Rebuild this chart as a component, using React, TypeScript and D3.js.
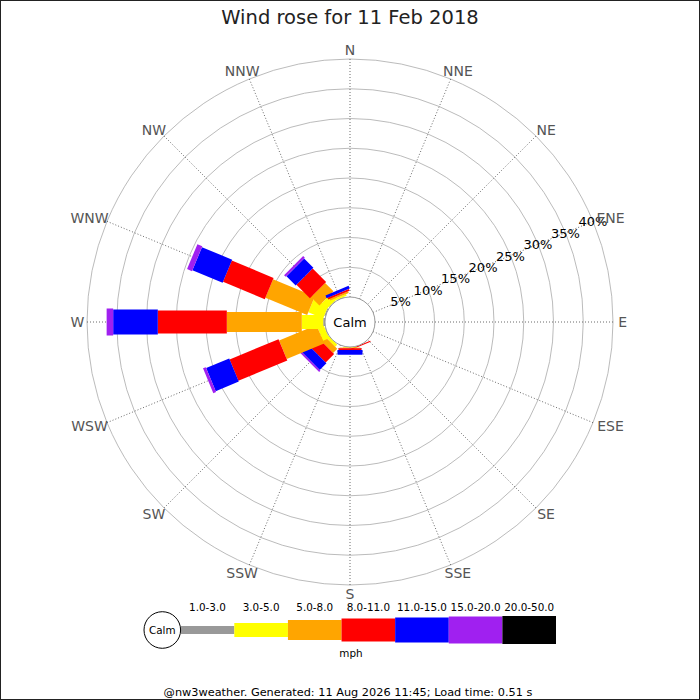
import React from 'react';
import * as d3 from 'd3';

const title = 'Wind rose for 11 Feb 2018';
const footer = '@nw3weather. Generated: 11 Aug 2026 11:45; Load time: 0.51 s';
const unit = 'mph';

const directions = ['N', 'NNE', 'NE', 'ENE', 'E', 'ESE', 'SE', 'SSE', 'S', 'SSW', 'SW', 'WSW', 'W', 'WNW', 'NW', 'NNW'];
const speedBands = ['1.0-3.0', '3.0-5.0', '5.0-8.0', '8.0-11.0', '11.0-15.0', '15.0-20.0', '20.0-50.0'];
const bandColors = ['#999999', '#ffff00', '#ffa500', '#ff0000', '#0000ff', '#a020f0', '#000000'];
const bandWidths = [8, 14, 20, 23, 25, 27, 28];

// percent of time per direction, one array per speed band (N .. NNW)
const band1to3 = [0, 0, 0, 0, 0, 0, 0, 0, 0, 0, 0, 0.1, 0.3, 0.2, 0.1, 0.1];
const band3to5 = [0, 0, 0, 0, 0, 0, 0, 0, 0.1, 0, 0.5, 1.1, 3.6, 2.7, 1.3, 0.3];
const band5to8 = [0, 0, 0, 0, 0, 0, 0, 0, 0.1, 0, 1.0, 6.8, 12.6, 7.6, 2.0, 0.3];
const band8to11 = [0, 0, 0, 0, 0, 0, 0, 0.2, 0.3, 0, 2.0, 8.9, 11.6, 7.6, 3.2, 0.3];
const band11to15 = [0, 0, 0, 0, 0, 0, 0, 0, 0.8, 0, 1.6, 4.2, 7.5, 5.5, 2.2, 0.5];
const band15to20 = [0, 0, 0, 0, 0, 0, 0, 0, 0, 0, 0.3, 0.5, 1.1, 0.9, 0.4, 0];
const band20to50 = [0, 0, 0, 0, 0, 0, 0, 0, 0, 0, 0, 0, 0, 0, 0, 0];
const bandValues = [band1to3, band3to5, band5to8, band8to11, band11to15, band15to20, band20to50];

const ringTicks = [5, 10, 15, 20, 25, 30, 35, 40];

const W = 700;
const cx = 350;
const cy = 322;
const calmR = 25;
const outerR = 263;
const font = 'DejaVu Sans, sans-serif';

export default function App() {
  const r = d3.scaleLinear().domain([0, 40]).range([calmR, outerR]);
  const ang = d3.scaleLinear().domain([0, 16]).range([0, 360]);
  const rad = (deg: number) => (deg * Math.PI) / 180;

  const legendX = d3.scaleBand<number>().domain(d3.range(speedBands.length)).range([180.7, 556]);

  return (
    <svg width={W} height={W} style={{ position: 'absolute', left: 0, top: 0, background: '#fff' }} fontFamily={font}>
      <rect x={0.5} y={0.5} width={W - 1} height={W - 1} fill="#fff" stroke="#222" />
      <text x={cx} y={24} textAnchor="middle" fontSize={19.5} fill="#222">{title}</text>

      <g transform={`translate(${cx},${cy})`}>
        {ringTicks.map(t => (
          <circle key={t} r={r(t)} fill="none" stroke="#aaaaaa" strokeWidth={0.8} />
        ))}
        {directions.map((d, i) => {
          const a = rad(ang(i));
          return (
            <line key={d} x1={Math.sin(a) * calmR} y1={-Math.cos(a) * calmR}
              x2={Math.sin(a) * outerR} y2={-Math.cos(a) * outerR}
              stroke="#444" strokeWidth={0.8} strokeDasharray="1,2" />
          );
        })}

        {directions.map((d, i) => {
          const cum = d3.cumsum(bandValues.map(b => b[i]));
          return (
            <g key={d} transform={`rotate(${ang(i) - 90})`}>
              {bandValues.map((b, k) => {
                if (b[i] <= 0) return null;
                const r0 = r(cum[k] - b[i]);
                const r1 = r(cum[k]);
                return (
                  <rect key={k} x={r0} y={-bandWidths[k] / 2} width={r1 - r0} height={bandWidths[k]}
                    fill={bandColors[k]} />
                );
              })}
            </g>
          );
        })}

        <circle r={calmR} fill="#fff" stroke="#999" strokeWidth={1} />
        <text x={0} y={5} textAnchor="middle" fontSize={13} fill="#000">Calm</text>

        {ringTicks.map(t => {
          const a = rad(ang(3));
          return (
            <text key={t} x={Math.sin(a) * r(t)} y={-Math.cos(a) * r(t) + 5} textAnchor="middle" fontSize={13} fill="#000">{t}%</text>
          );
        })}

        {directions.map((d, i) => {
          const a = rad(ang(i));
          const w = d.length * 9.3;
          const x = Math.sin(a) * 272 + Math.sin(a) * Math.max(0, w / 2 - 4);
          const y = -Math.cos(a) * 272;
          return (
            <text key={d} x={x} y={y + 5} textAnchor="middle" fontSize={14} fill="#555">{d}</text>
          );
        })}
      </g>

      <g>
        {speedBands.map((s, k) => {
          const x0 = legendX(k) as number;
          const bw = legendX.bandwidth();
          return (
            <g key={s}>
              <rect x={x0} y={630 - bandWidths[k] / 2} width={bw} height={bandWidths[k]} fill={bandColors[k]} />
              <text x={x0 + bw / 2} y={611} textAnchor="middle" fontSize={10.4} fill="#000">{s}</text>
            </g>
          );
        })}
        <circle cx={162.3} cy={630} r={18.3} fill="#fff" stroke="#000" strokeWidth={1} />
        <text x={162.3} y={634} textAnchor="middle" fontSize={10.4} fill="#000">Calm</text>
        <text x={351} y={657} textAnchor="middle" fontSize={10.4} fill="#000">{unit}</text>
      </g>

      <text x={348} y={696} textAnchor="middle" fontSize={11.3} fill="#000">{footer}</text>
    </svg>
  );
}
